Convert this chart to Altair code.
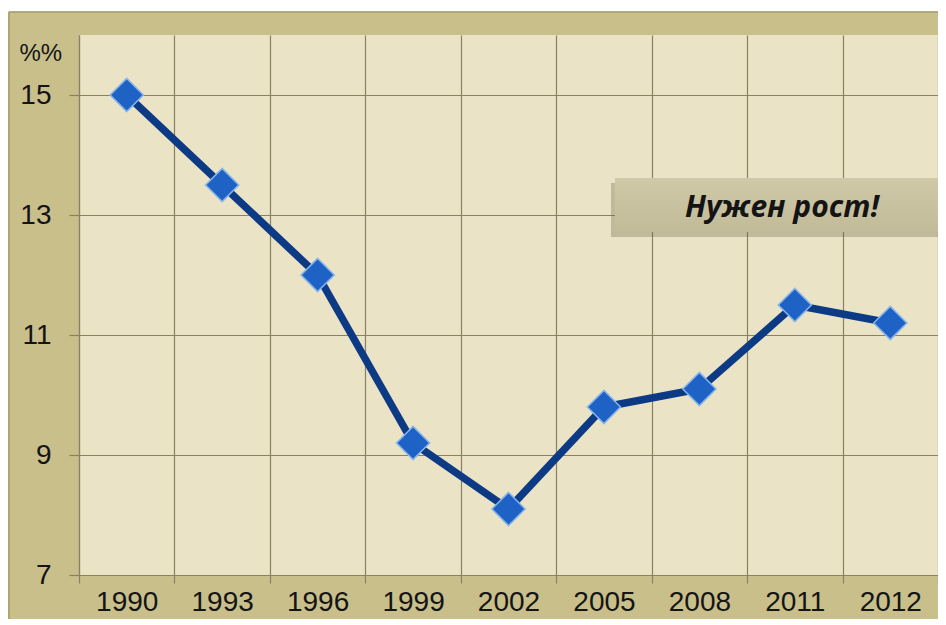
import altair as alt
import pandas as pd

years = ["1990", "1993", "1996", "1999", "2002", "2005", "2008", "2011", "2012"]
values = [15.0, 13.5, 12.0, 9.2, 8.1, 9.8, 10.1, 11.5, 11.2]
y_ticks = [7, 9, 11, 13, 15]
note_text = "Нужен рост!"

df = pd.DataFrame({"year": years, "value": values})

FRAME = "#c8bf8b"
PLOT_BG = "#ebe3c5"
GRID = "#8a8163"
FONT = "Liberation Sans"

x_enc = alt.X(
    "year:O",
    sort=years,
    scale=alt.Scale(paddingInner=0, paddingOuter=0),
    axis=alt.Axis(
        title=None,
        labelAngle=0,
        labelFontSize=28,
        labelFont=FONT,
        labelColor="#141414",
        labelPadding=5,
        tickBand="extent",
        tickSize=8,
        tickColor=GRID,
        tickWidth=1.2,
        grid=True,
        gridColor=GRID,
        gridWidth=1.2,
        domainColor=GRID,
        domainWidth=1.2,
    ),
)
y_enc = alt.Y(
    "value:Q",
    scale=alt.Scale(domain=[7, 16], nice=False, zero=False),
    axis=alt.Axis(
        values=y_ticks,
        title="%%",
        titleAngle=0,
        titleAlign="left",
        titleBaseline="top",
        titleX=-60,
        titleY=6,
        titleFontSize=24,
        titleFont=FONT,
        titleFontWeight="normal",
        titleColor="#141414",
        labelFontSize=28,
        labelFont=FONT,
        labelColor="#141414",
        labelPadding=18,
        tickSize=10,
        tickColor=GRID,
        tickWidth=1.2,
        grid=True,
        gridColor=GRID,
        gridWidth=1.2,
        domainColor=GRID,
        domainWidth=1.2,
    ),
)

base = alt.Chart(df)

line = base.mark_line(color="#0c3a85", strokeWidth=7.5).encode(x=x_enc, y=y_enc)
points = base.mark_point(
    shape="diamond", filled=True, size=1100, color="#1f62c5",
    stroke="#86b4ea", strokeWidth=1.5, opacity=1,
).encode(x=x_enc, y=y_enc)

one = pd.DataFrame({"a": [0]})

# decorative frame edges
top_strip = alt.Chart(one).mark_rect(color="white").encode(
    x=alt.value(-80), x2=alt.value(880), y=alt.value(-30), y2=alt.value(-23.5)
)
top_edge = alt.Chart(one).mark_rule(color="#a59c6c", strokeWidth=1.5).encode(
    x=alt.value(-70), x2=alt.value(880), y=alt.value(-23)
)
left_edge = alt.Chart(one).mark_rule(color="#a59c6c", strokeWidth=1.5).encode(
    x=alt.value(-70), y=alt.value(-23), y2=alt.value(620)
)

# annotation box
shadow = alt.Chart(one).mark_rect(color="#6f6a50", opacity=0.35).encode(
    x=alt.value(532), x2=alt.value(880), y=alt.value(148), y2=alt.value(202)
)
box = alt.Chart(one).mark_rect(
    fill={"x1": 0, "y1": 0, "x2": 0, "y2": 1, "gradient": "linear",
          "stops": [{"offset": 0, "color": "#cfc9a8"}, {"offset": 1, "color": "#c2bb98"}]}
).encode(
    x=alt.value(536), x2=alt.value(880), y=alt.value(143), y2=alt.value(197)
)
note = alt.Chart(pd.DataFrame({"t": [note_text]})).mark_text(
    font="Open Sans", fontSize=30, fontWeight="bold", fontStyle="italic",
    color="#141414", align="center", baseline="middle",
).encode(text="t:N", x=alt.value(703), y=alt.value(173))

chart = alt.layer(
    top_strip, top_edge, left_edge, line, points, shadow, box, note
).properties(
    width=859,
    height=540,
    background=FRAME,
    padding={"left": 71, "top": 27, "right": 0, "bottom": 44},
    autosize=alt.AutoSizeParams(type="none"),
).configure_view(
    fill=PLOT_BG, stroke=None
)

chart.save("out.html", embed_options={"renderer": "svg", "actions": False})
